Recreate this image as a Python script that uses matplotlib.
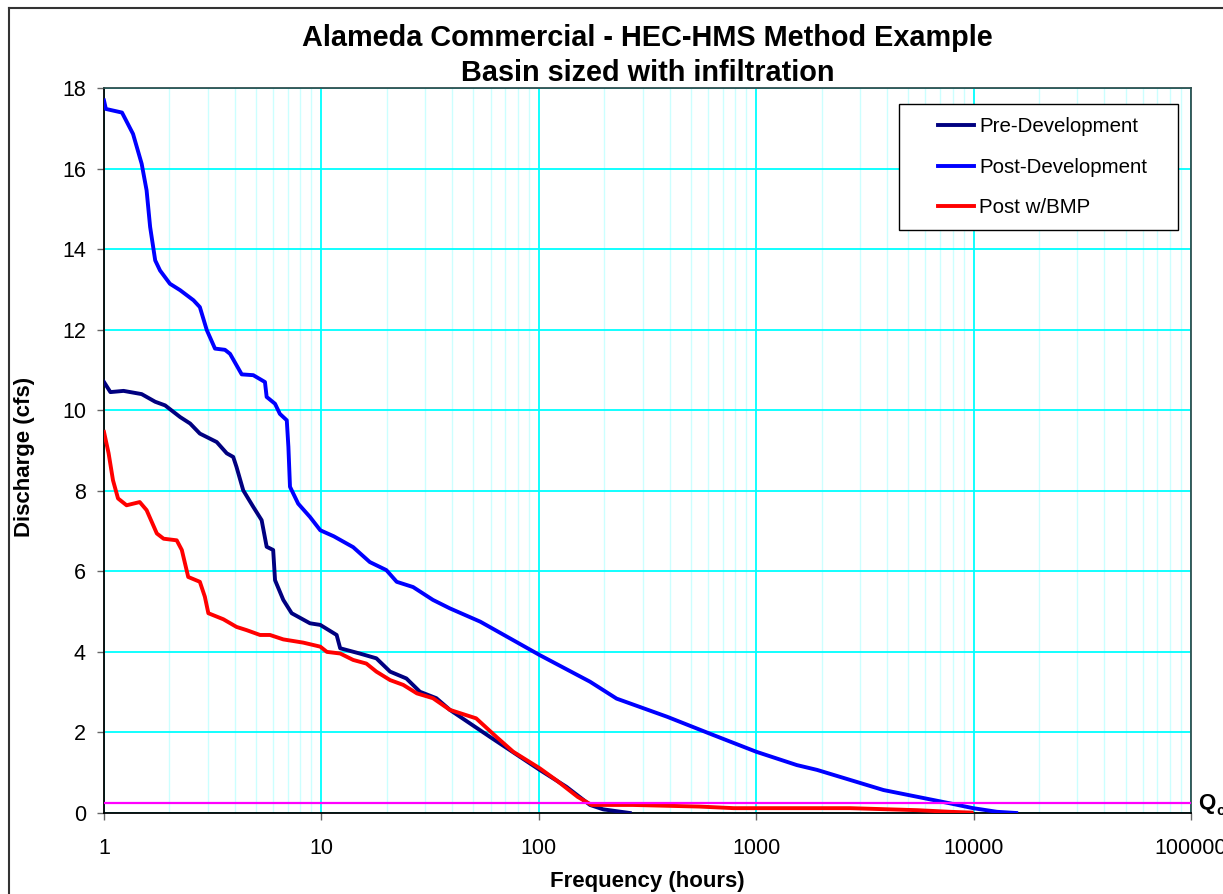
import matplotlib
matplotlib.use("Agg")
import matplotlib.pyplot as plt
from matplotlib.lines import Line2D
from matplotlib.legend_handler import HandlerBase
from matplotlib.ticker import LogLocator, NullFormatter

plt.rcParams['font.family'] = ['Liberation Sans', 'DejaVu Sans']

# Frequency (hours) vs discharge (cfs)
pre_hours = [1.0, 1.07, 1.23, 1.49, 1.72, 1.91, 2.24, 2.49, 2.76, 3.30, 3.67, 3.93, 4.07, 4.37, 4.86, 5.31,
             5.6, 6.0, 6.12, 6.68, 7.30, 8.86, 9.88, 11.75, 12.2, 15.0, 17.9, 20.7, 24.6, 28.4, 33.8, 39.0,
             59.6, 101, 134, 172, 198, 262]
pre_cfs = [10.70, 10.45, 10.48, 10.40, 10.21, 10.12, 9.83, 9.67, 9.42, 9.21, 8.93, 8.84, 8.59, 8.01, 7.60, 7.27,
           6.61, 6.53, 5.78, 5.29, 4.96, 4.71, 4.67, 4.42, 4.09, 3.96, 3.84, 3.51, 3.34, 3.01, 2.85, 2.56,
           1.89, 1.07, 0.65, 0.20, 0.09, 0.0]

post_hours = [1.0, 1.02, 1.21, 1.36, 1.49, 1.57, 1.63, 1.72, 1.81, 2.01, 2.24, 2.58, 2.76, 2.97, 3.24, 3.60,
              3.80, 4.30, 4.86, 5.50, 5.6, 6.12, 6.44, 6.93, 7.05, 7.17, 7.82, 8.86, 9.88, 11.4, 14.0, 16.7,
              19.9, 22.2, 26.4, 32.6, 39.0, 53.8, 76.3, 101, 172, 228, 389, 632, 1001, 1537, 1905, 3850,
              7780, 9950, 12800, 15700]
post_cfs = [17.69, 17.48, 17.39, 16.86, 16.12, 15.46, 14.55, 13.72, 13.47, 13.14, 12.98, 12.73, 12.56, 11.99,
            11.53, 11.50, 11.40, 10.89, 10.87, 10.70, 10.33, 10.16, 9.91, 9.75, 9.09, 8.10, 7.68, 7.35, 7.02,
            6.87, 6.60, 6.23, 6.03, 5.74, 5.61, 5.29, 5.08, 4.75, 4.29, 3.92, 3.26, 2.84, 2.39, 1.94, 1.52,
            1.19, 1.07, 0.57, 0.24, 0.12, 0.03, 0.0]

bmp_hours = [1.0, 1.05, 1.10, 1.16, 1.27, 1.46, 1.57, 1.75, 1.88, 2.16, 2.28, 2.44, 2.76, 2.91, 3.02, 3.54,
             4.07, 4.53, 5.22, 5.8, 6.68, 8.25, 9.88, 10.6, 12.2, 14.0, 16.1, 17.9, 20.7, 23.8, 27.5, 32.6,
             39.0, 51.5, 63.8, 76.3, 101, 120, 151, 175, 270, 547, 790, 1580, 2700, 5500, 7780, 9800]
bmp_cfs = [9.46, 8.93, 8.26, 7.81, 7.64, 7.72, 7.52, 6.94, 6.81, 6.77, 6.53, 5.86, 5.74, 5.37, 4.96, 4.81,
           4.62, 4.54, 4.42, 4.42, 4.31, 4.23, 4.13, 4.00, 3.96, 3.80, 3.71, 3.51, 3.30, 3.18, 2.97, 2.85,
           2.56, 2.35, 1.89, 1.52, 1.11, 0.82, 0.40, 0.20, 0.20, 0.16, 0.12, 0.12, 0.12, 0.07, 0.03, 0.01]

qc_cfs = 0.25
x_ticks = [1, 10, 100, 1000, 10000, 100000]
x_labels = ['1', '10', '100', '1000', '10000', '100000']
y_ticks = [0, 2, 4, 6, 8, 10, 12, 14, 16, 18]


# legend handle: short line sitting at the right of a wider handle box
class ShortLine(HandlerBase):
    def create_artists(self, legend, orig_handle, xdescent, ydescent, width, height, fontsize, trans):
        y = height / 2 - ydescent
        ln = Line2D([0.41 * width - xdescent, width - xdescent], [y, y],
                    color=orig_handle.get_color(), lw=orig_handle.get_linewidth())
        ln.set_transform(trans)
        return [ln]


W, H = 1223, 894
fig = plt.figure(figsize=(W / 100, H / 100), dpi=100)
ax = fig.add_axes([104 / W, 1 - 813 / H, (1191 - 104) / W, (813 - 88) / H])

# chart area border (cut off at right and bottom)
fig.add_artist(Line2D([9 / W, 9 / W], [0, 1 - 8 / H], color='#333333', lw=1.5, transform=fig.transFigure))
fig.add_artist(Line2D([9 / W, 1], [1 - 8 / H, 1 - 8 / H], color='#333333', lw=1.5, transform=fig.transFigure))

l1, = ax.plot(pre_hours, pre_cfs, color='#000080', lw=2.8, label='Pre-Development', zorder=3)
l2, = ax.plot(post_hours, post_cfs, color='#0000FF', lw=2.8, label='Post-Development', zorder=3)
l3, = ax.plot(bmp_hours, bmp_cfs, color='#FF0000', lw=2.8, label='Post w/BMP', zorder=3)
ax.axhline(qc_cfs, color='#FF00FF', lw=1.6, zorder=4)

ax.set_xscale('log')
ax.set_xlim(x_ticks[0], x_ticks[-1])
ax.set_ylim(0, 18)
ax.set_yticks(y_ticks)
ax.set_xticks(x_ticks)
ax.set_xticklabels(x_labels)
ax.xaxis.set_minor_locator(LogLocator(base=10, subs=range(2, 10), numticks=20))
ax.xaxis.set_minor_formatter(NullFormatter())

ax.grid(True, which='major', color='#00FFFF', lw=1.3, zorder=0)
ax.grid(True, which='minor', axis='x', color='#CCFFFF', lw=1.0, zorder=0)
ax.set_axisbelow(True)

ax.tick_params(axis='both', which='major', direction='out', length=5, width=1, color='#666666',
               labelsize=15.5, pad=8)
ax.tick_params(axis='x', which='major', pad=13)
ax.tick_params(axis='x', which='minor', length=0)
for s in ['left', 'bottom']:
    ax.spines[s].set_color('black')
    ax.spines[s].set_linewidth(1.3)
for s in ['top', 'right']:
    ax.spines[s].set_color('#2F4F4F')
    ax.spines[s].set_linewidth(1.3)

ax.set_title('Alameda Commercial - HEC-HMS Method Example\nBasin sized with infiltration',
             fontsize=20.8, fontweight='bold', pad=5, linespacing=1.3)
ax.set_ylabel('Discharge (cfs)', fontsize=16, fontweight='bold')
ax.yaxis.set_label_coords(-0.0635, 0.491)
ax.set_xlabel('Frequency (hours)', fontsize=16, fontweight='bold', labelpad=9)

leg = ax.legend(handles=[l1, l2, l3], handler_map={Line2D: ShortLine()},
                loc='upper left', mode='expand',
                bbox_to_anchor=((899 - 104) / 1087, 0.5, 279 / 1087, (813 - 104) / 725 - 0.5),
                fontsize=14.8, frameon=True, fancybox=False, edgecolor='black', framealpha=1,
                handlelength=3.0, labelspacing=1.04, borderpad=0.65, handletextpad=0.25, borderaxespad=0)
leg.get_frame().set_linewidth(1.0)

fig.text(1198 / W, 1 - 803 / H, 'Q', fontsize=16, fontweight='bold', va='center', ha='left')
fig.text(1216 / W, 1 - 811 / H, 'c', fontsize=11, fontweight='bold', va='center', ha='left')

fig.savefig('out.png', dpi=100)
